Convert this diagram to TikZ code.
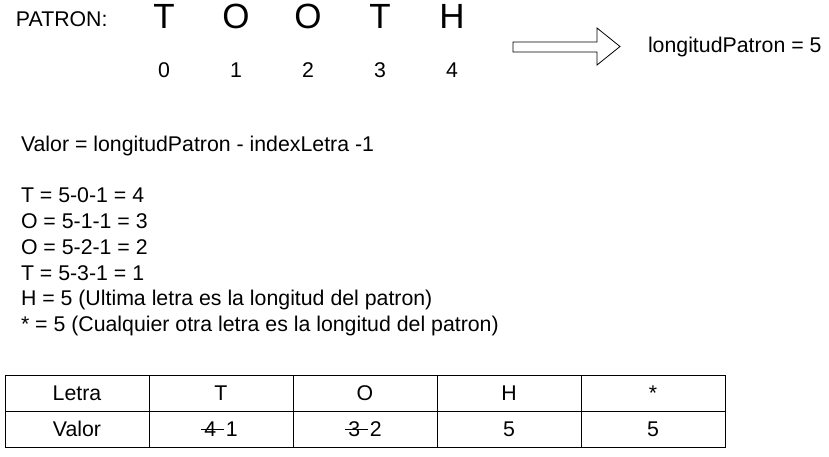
\documentclass[tikz,border=0pt]{standalone}
\usepackage{fontspec}
\setmainfont{Liberation Sans}
\usetikzlibrary{positioning}

\newcommand{\tachado}[1]{\rlap{\kern-0.15em\rule[0.3em]{1.05em}{0.05em}}#1\kern0.45em}

\begin{document}
\begin{tikzpicture}[
    x=1pt, y=-1pt,
    every node/.style={inner sep=0pt, outer sep=0pt},
    texto/.style={font=\fontsize{21.3}{25.8}\selectfont},
    grande/.style={font=\fontsize{35}{40}\selectfont},
    celda/.style={draw, line width=0.8pt, texto, minimum width=144pt, minimum height=36pt,
                  text height=15.3pt, text depth=0pt}
]
    \useasboundingbox (0,0) rectangle (829,456);

    \node[texto, anchor=base west] (patron) at (16,26) {PATRON:};
    \foreach \c [count=\i from 0] in {T,O,O,T,H} {
        \node[grande, anchor=base] (L\i) at (164+72*\i,28) {\c};
        \node[texto, anchor=base] (I\i) at (164+72*\i,77) {\i};
    }

    % flecha
    \draw[line width=0.8pt] (513,42) -- (597,42) -- (597,28) -- (620,46.5)
        -- (597,65) -- (597,52) -- (513,52) -- cycle;
    \node[texto, anchor=base west] (longitud) at (648,52) {longitudPatron = 5};

    \node[texto, anchor=base west] (formula) at (21,151) {Valor = longitudPatron - indexLetra -1};
    \foreach \t [count=\i from 0] in {
        T = 5-0-1 = 4,
        O = 5-1-1 = 3,
        O = 5-2-1 = 2,
        T = 5-3-1 = 1,
        H = 5 (Ultima letra es la longitud del patron),
        * = 5 (Cualquier otra letra es la longitud del patron)} {
        \node[texto, anchor=base west] (paso\i) at (21,202.7+25.8*\i) {\t};
    }

    % tabla
    \foreach \t [count=\i from 0] in {Letra,T,O,H,*} {
        \node[celda] (fila1-\i) at (77+144*\i,393) {\t};
    }
    \foreach \t [count=\i from 0] in {Valor,\tachado{4}1,\tachado{3}2,5,5} {
        \node[celda] (fila2-\i) at (77+144*\i,429) {\t};
    }
\end{tikzpicture}
\end{document}
